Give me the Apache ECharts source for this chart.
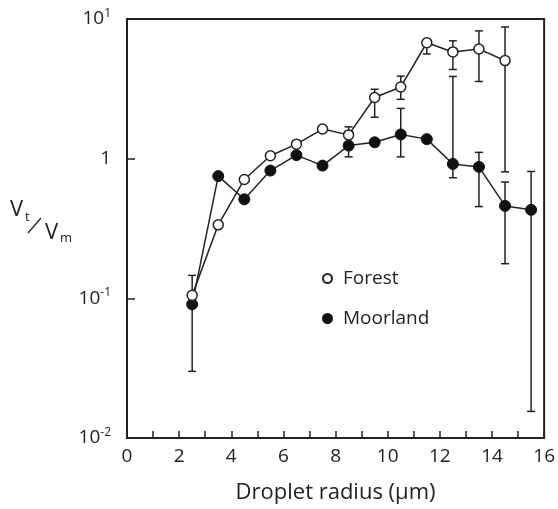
<!DOCTYPE html>
<html><head><meta charset="utf-8">
<script src="https://cdn.jsdelivr.net/npm/echarts@6/dist/echarts.min.js"></script>
<style>html,body{margin:0;padding:0;background:#fff}#c{width:558px;height:509px}</style>
</head><body><div id="c"></div>
<script>
var radius = [2.5, 3.5, 4.5, 5.5, 6.5, 7.5, 8.5, 9.5, 10.5, 11.5, 12.5, 13.5, 14.5, 15.5];
var forest = [0.105, 0.336, 0.71, 1.05, 1.27, 1.63, 1.48, 2.74, 3.26, 6.76, 5.81, 6.1, 5.04];
var moorland = [0.0906, 0.75, 0.512, 0.822, 1.06, 0.892, 1.24, 1.31, 1.49, 1.38, 0.917, 0.873, 0.459, 0.43];
// error bars: [x, low, high]
var forestErr = [[2.5, 0.105, 0.146], [8.5, 1.48, 1.69], [9.5, 1.98, 3.14], [10.5, 2.66, 3.90], [11.5, 5.62, 6.76], [12.5, 4.35, 6.98], [13.5, 3.57, 8.22], [14.5, 0.805, 8.77]];
var moorErr = [[2.5, 0.03, 0.0906], [8.5, 1.03, 1.24], [10.5, 1.03, 2.29], [12.5, 0.73, 3.88], [13.5, 0.454, 1.11], [14.5, 0.177, 0.68], [15.5, 0.0155, 0.81]];
var yTicks = {0.01: ['10', '-2'], 0.1: ['10', '-1'], 1: ['1', ''], 10: ['10', '1']};

var FONT = 'Open Sans';
function pairs(xs, ys) { return ys.map(function (v, i) { return [xs[i], v]; }); }
function errRender(params, api) {
  var x = api.value(0), lo = api.value(1), hi = api.value(2);
  var p1 = api.coord([x, lo]), p2 = api.coord([x, hi]);
  var w = 4;
  var st = {stroke: '#222', lineWidth: 1.5};
  return {type: 'group', children: [
    {type: 'line', shape: {x1: p1[0], y1: p1[1], x2: p2[0], y2: p2[1]}, style: st},
    {type: 'line', shape: {x1: p1[0] - w, y1: p1[1], x2: p1[0] + w, y2: p1[1]}, style: st},
    {type: 'line', shape: {x1: p2[0] - w, y1: p2[1], x2: p2[0] + w, y2: p2[1]}, style: st}
  ]};
}
var chart = echarts.init(document.getElementById('c'), null, {renderer: 'canvas'});
chart.setOption({
  animation: false,
  textStyle: {fontFamily: FONT},
  grid: {left: 127, top: 19, right: 12, bottom: 68, show: true, borderColor: '#222', borderWidth: 2, backgroundColor: 'transparent'},
  legend: {
    orient: 'vertical', left: 317, top: 262, itemGap: 17, itemWidth: 9, itemHeight: 9,
    textStyle: {fontFamily: FONT, fontSize: 19, color: '#222', lineHeight: 23, padding: [0, 0, 0, 6]},
    data: [{name: 'Forest', icon: 'circle'}, {name: 'Moorland', icon: 'circle'}]
  },
  xAxis: {
    type: 'value', min: 0, max: 16, interval: 1,
    name: 'Droplet radius (µm)', nameLocation: 'middle', nameGap: 44,
    nameTextStyle: {fontFamily: FONT, fontSize: 22, color: '#222'},
    axisLine: {lineStyle: {color: '#222', width: 2}},
    axisTick: {inside: true, length: 7, lineStyle: {color: '#222', width: 1.5}},
    splitLine: {show: false},
    axisLabel: {margin: 9, fontFamily: FONT, fontSize: 19, color: '#222', interval: 0, showMinLabel: true, showMaxLabel: true,
      formatter: function (v) { return v % 2 === 0 ? String(v) : ''; }}
  },
  yAxis: {
    type: 'log', logBase: 10, min: 0.01, max: 10,
    axisLine: {lineStyle: {color: '#222', width: 2}},
    axisTick: {inside: true, length: 8, lineStyle: {color: '#222', width: 1.5}},
    splitLine: {show: false},
    minorTick: {show: false},
    axisLabel: {margin: 16, fontFamily: FONT, color: '#222',
      formatter: function (v) {
        var k = Math.abs(v - 0.01) < 1e-6 ? 0.01 : Math.abs(v - 0.1) < 1e-6 ? 0.1 : Math.abs(v - 1) < 1e-6 ? 1 : 10;
        var t = yTicks[k];
        return t[1] ? '{b|' + t[0] + '}{s|' + t[1] + '}' : '{b|' + t[0] + '}';
      },
      rich: {b: {fontSize: 19, fontFamily: FONT, color: '#222'}, s: {fontSize: 12, fontFamily: FONT, color: '#222', verticalAlign: 'top', padding: [0, 0, 11, 0]}}
    }
  },
  graphic: [
    {type: 'text', left: 10, top: 199, style: {text: 'V', font: '22px "Open Sans"', fill: '#222'}},
    {type: 'text', left: 25, top: 211, style: {text: 't', font: '13px "Open Sans"', fill: '#222'}},
    {type: 'line', shape: {x1: 41, y1: 218, x2: 28, y2: 233}, style: {stroke: '#222', lineWidth: 1.3}},
    {type: 'text', left: 45, top: 222, style: {text: 'V', font: '22px "Open Sans"', fill: '#222'}},
    {type: 'text', left: 60, top: 232, style: {text: 'm', font: '13px "Open Sans"', fill: '#222'}}
  ],
  series: [
    {type: 'custom', name: 'forestErr', renderItem: errRender, data: forestErr, z: 1, silent: true},
    {type: 'custom', name: 'moorErr', renderItem: errRender, data: moorErr, z: 1, silent: true},
    {type: 'line', name: 'Moorland', data: pairs(radius, moorland), z: 3, symbol: 'circle', symbolSize: 11,
      lineStyle: {color: '#222', width: 1.5}, itemStyle: {color: '#111', borderColor: '#111', borderWidth: 1}},
    {type: 'line', name: 'Forest', data: pairs(radius, forest), z: 4, symbol: 'circle', symbolSize: 10,
      lineStyle: {color: '#222', width: 1.5}, itemStyle: {color: '#fff', borderColor: '#222', borderWidth: 1.5}}
  ]
});
</script></body></html>
